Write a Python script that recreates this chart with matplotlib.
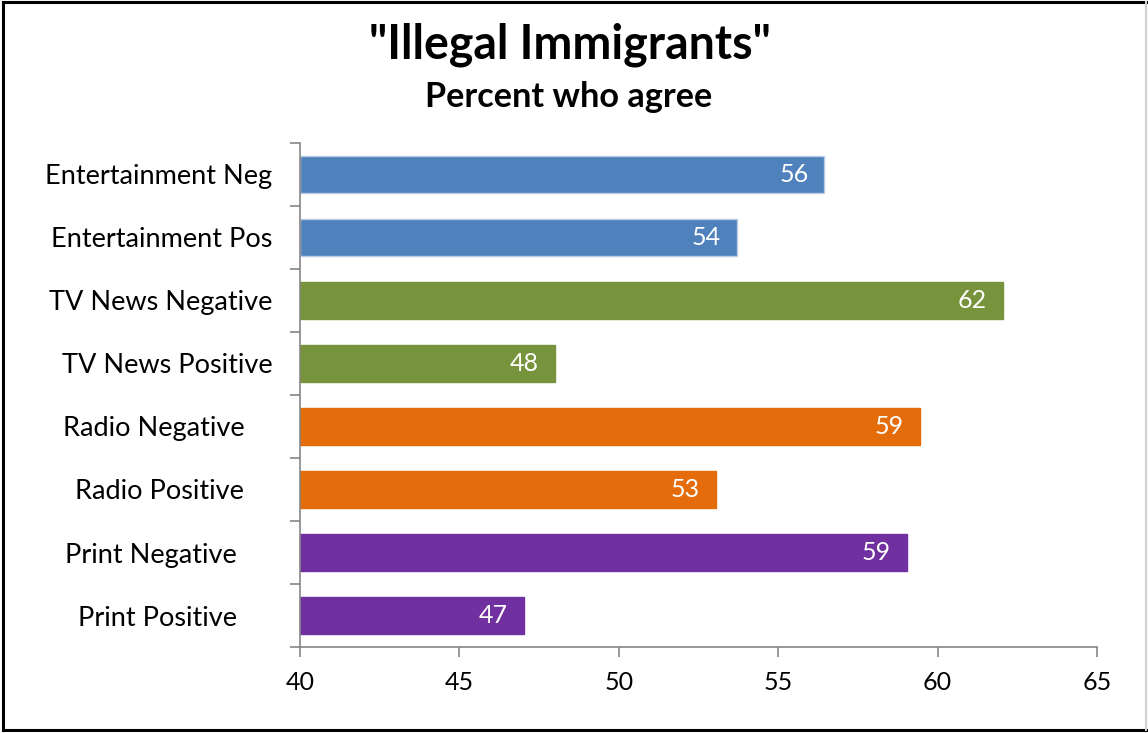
import matplotlib
matplotlib.use("Agg")
import matplotlib.pyplot as plt
from matplotlib.lines import Line2D
import numpy as np

categories = ["Entertainment Neg", "Entertainment Pos", "TV News Negative", "TV News Positive",
              "Radio Negative    ", "Radio Positive    ", "Print Negative     ", "Print Positive     "]
values = [56.45, 53.7, 62.05, 48.0, 59.45, 53.05, 59.04, 47.03]
colors = ["#4F81BD", "#4F81BD", "#77933C", "#77933C", "#E46C0A", "#E46C0A", "#7030A0", "#7030A0"]
edges = ["#B9CDE5", "#B9CDE5", "#77933C", "#77933C", "#E46C0A", "#E46C0A", "#7030A0", "#7030A0"]
xticks = [40, 45, 50, 55, 60, 65]
title = '"Illegal Immigrants"'
subtitle = "Percent who agree"

plt.rcParams['font.family'] = ['Lato', 'DejaVu Sans']

W, H = 1148, 733
fig = plt.figure(figsize=(W / 100, H / 100), dpi=100)
ax = fig.add_axes([300 / W, 1 - 647 / H, (1097 - 300) / W, (647 - 143) / H])

y = np.arange(len(categories))
base = xticks[0]
ax.barh(y, [v - base for v in values], left=base, height=0.6,
        color=colors, edgecolor=edges, linewidth=1)
for yi, v in zip(y, values):
    ax.text(v - 0.5, yi, f"{v:.0f}", ha="right", va="center", color="white", fontsize=18)

ax.set_xlim(xticks[0], xticks[-1])
ax.set_ylim(len(categories) - 0.5, -0.5)
ax.set_xticks(xticks)
ax.set_xticklabels([str(t) for t in xticks], fontsize=18)
ax.set_yticks(y)
ax.set_yticklabels(categories, fontsize=19.5)
ax.set_yticks(np.arange(-0.5, len(categories) + 0.5, 1), minor=True)
ax.tick_params(axis="y", which="major", length=0, pad=20)
ax.tick_params(axis="y", which="minor", length=7, color="#868686", width=1.2, direction="out")
ax.tick_params(axis="x", length=7, color="#868686", width=1.2, direction="out", pad=10)
for s in ["top", "right"]:
    ax.spines[s].set_visible(False)
for s in ["left", "bottom"]:
    ax.spines[s].set_color("#868686")
    ax.spines[s].set_linewidth(1.2)

fig.text(0.4965, 1 - 45 / H, title, ha="center", va="center", fontsize=33.5, fontweight="bold")
fig.text(0.4955, 1 - 97 / H, subtitle, ha="center", va="center", fontsize=24.7, fontweight="bold")

# figure frame
x0, x1 = 3 / W, 1 - 2 / W
y0, y1 = 3 / H, 1 - 2 / H
fig.lines.extend([
    Line2D([x0, x1], [y1, y1], transform=fig.transFigure, color="black", lw=2.2),
    Line2D([x0, x1], [y0, y0], transform=fig.transFigure, color="black", lw=2.2),
    Line2D([x0, x0], [y0, y1], transform=fig.transFigure, color="black", lw=2.2),
    Line2D([x1, x1], [y0, y1], transform=fig.transFigure, color="#D0D0D0", lw=1.5),
])

fig.savefig("out.png", dpi=100)
